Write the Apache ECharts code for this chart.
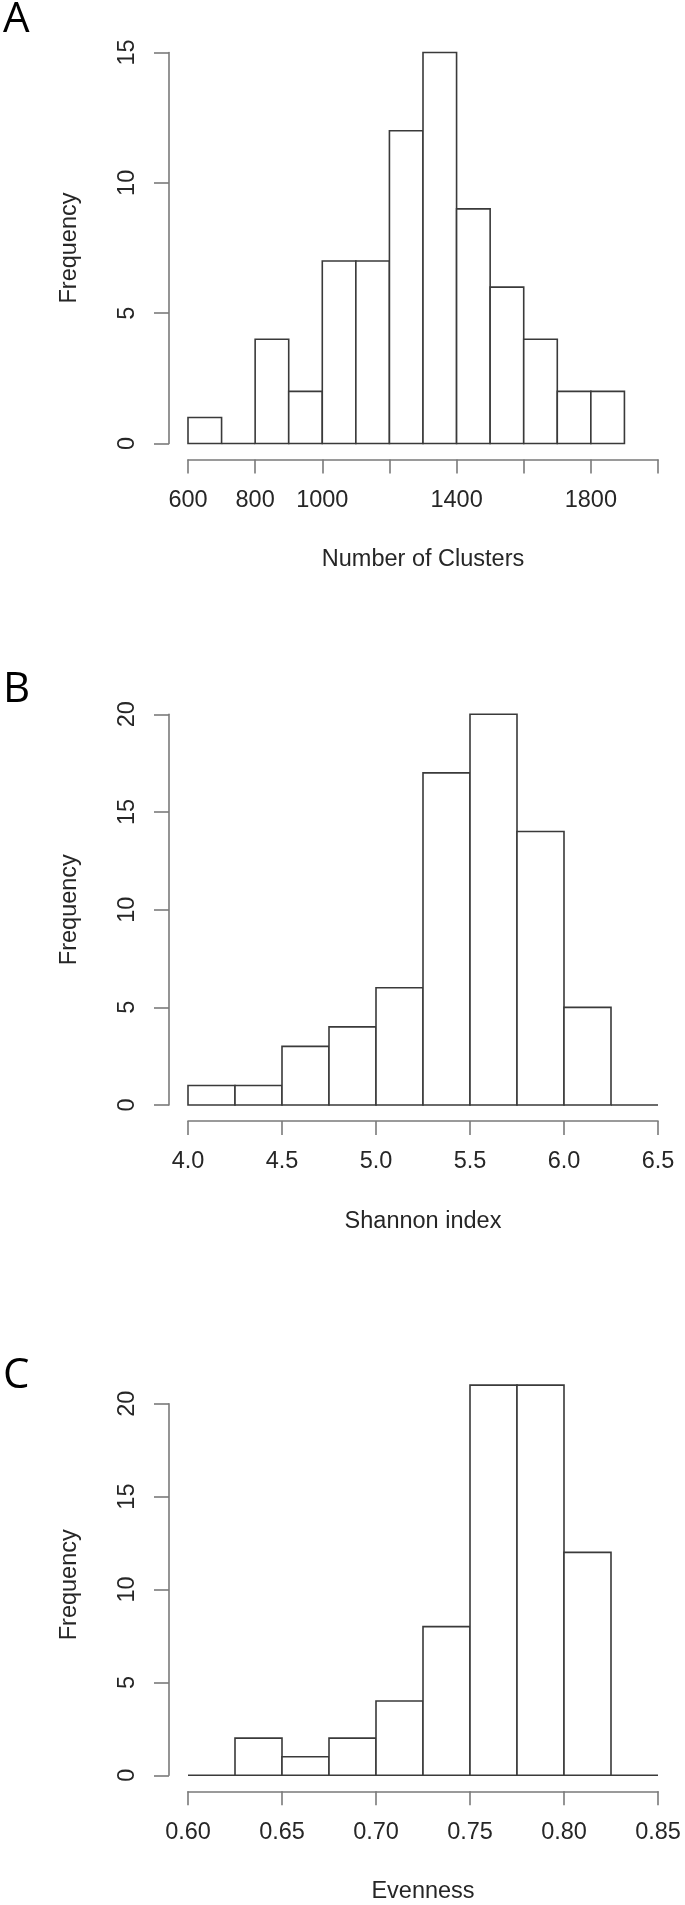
<!DOCTYPE html>
<html><head><meta charset="utf-8">
<script src="https://cdn.jsdelivr.net/npm/echarts@6/dist/echarts.min.js"></script>
<style>html,body{margin:0;padding:0;background:#fff}#c{width:685px;height:1905px}</style>
</head><body><div id="c"></div>
<script>
// ---- Data (histogram breaks and counts) ----
const clusterBreaks = [600,700,800,900,1000,1100,1200,1300,1400,1500,1600,1700,1800,1900];
const clusterCounts = [1,0,4,2,7,7,12,15,9,6,4,2,2];
const clusterTickLabels = ['600','800','1000','1400','1800'];

const shannonBreaks = [4.0,4.25,4.5,4.75,5.0,5.25,5.5,5.75,6.0,6.25,6.5];
const shannonCounts = [1,1,3,4,6,17,20,14,5,0];
const shannonTickLabels = ['4.0','4.5','5.0','5.5','6.0','6.5'];

const evennessBreaks = [0.600,0.625,0.650,0.675,0.700,0.725,0.750,0.775,0.800,0.825,0.850];
const evennessCounts = [0,2,1,2,4,8,21,21,12,0];
const evennessTickLabels = ['0.60','0.65','0.70','0.75','0.80','0.85'];

const panelLetters = ['A','B','C'];
const xTitles = ['Number of Clusters','Shannon index','Evenness'];
const yTitle = 'Frequency';

// ---- Styling ----
const FONT = '"Liberation Sans", Arial, Helvetica, sans-serif';
const TXT = '#262626';
const AXIS = '#7a7a7a';
const BAR = '#3a3a3a';
const FS = 23.5;

function bins(breaks, counts){
  return counts.map((c,i)=>[breaks[i], breaks[i+1], c]);
}

const panels = [
  {top:52.5, height:391, yMax:15, xMin:600, xMax:2000, xInt:200, breaks:clusterBreaks, counts:clusterCounts, labels:clusterTickLabels, namePad:0},
  {top:714.3, height:390.7, yMax:20, xMin:4.0, xMax:6.5, xInt:0.5, breaks:shannonBreaks, counts:shannonCounts, labels:shannonTickLabels, namePad:0},
  {top:1403.7, height:371.6, yMax:20, xMin:0.60, xMax:0.85, xInt:0.05, breaks:evennessBreaks, counts:evennessCounts, labels:evennessTickLabels, namePad:9.5}
];

const grid=[], xAxis=[], yAxis=[], series=[];
panels.forEach((p,i)=>{
  grid.push({left:188, right:27, top:p.top, height:p.height});
  const dec = p.labels[0].includes('.') ? p.labels[0].split('.')[1].length : 0;
  xAxis.push({
    gridIndex:i, type:'value', min:p.xMin, max:p.xMax, interval:p.xInt, offset:16,
    axisLine:{show:true, onZero:false, lineStyle:{color:AXIS, width:1.6}},
    axisTick:{show:true, length:14, lineStyle:{color:AXIS, width:1.6}},
    axisLabel:{margin:29, fontSize:FS, color:TXT, fontFamily:FONT, showMinLabel:true, showMaxLabel:true,
      formatter:(v)=>{const s=Number(v).toFixed(dec); return p.labels.includes(s)?s:'';}},
    splitLine:{show:false},
    name:xTitles[i], nameLocation:'middle', nameGap:88.5,
    nameTextStyle:{fontSize:FS, color:TXT, fontFamily:FONT}
  });
  yAxis.push({
    gridIndex:i, type:'value', min:0, max:p.yMax, interval:5, offset:19,
    axisLine:{show:true, lineStyle:{color:AXIS, width:1.6}},
    axisTick:{show:true, length:15, lineStyle:{color:AXIS, width:1.6}},
    axisLabel:{rotate:90, margin:29, fontSize:FS, color:TXT, fontFamily:FONT},
    splitLine:{show:false},
    name:yTitle, nameLocation:'middle', nameGap:87, nameRotate:90,
    nameTextStyle:{fontSize:FS, color:TXT, fontFamily:FONT, padding:[0,0,0,p.namePad]}
  });
  series.push({
    type:'custom', xAxisIndex:i, yAxisIndex:i, clip:false,
    data:bins(p.breaks,p.counts),
    encode:{x:[0,1], y:2},
    renderItem:(params, api)=>{
      const x0=api.value(0), x1=api.value(1), c=api.value(2);
      const a=api.coord([x0,0]), b=api.coord([x1,c]);
      if(c===0){
        return {type:'line', shape:{x1:a[0], y1:a[1], x2:b[0], y2:a[1]},
          style:{stroke:BAR, lineWidth:1.6}};
      }
      return {type:'rect', shape:{x:a[0], y:b[1], width:b[0]-a[0], height:a[1]-b[1]},
        style:{fill:'#fff', stroke:BAR, lineWidth:1.6}};
    }
  });
});

const letterY = [20, 690, 1376];
const graphic = panelLetters.map((t,i)=>({
  type:'text', x:3, y:letterY[i],
  style:{text:t, font:'42px "Open Sans", "Noto Sans", sans-serif', fill:'#000', verticalAlign:'middle', align:'left'}
}));

const chart = echarts.init(document.getElementById('c'), null, {renderer:'canvas'});
chart.setOption({animation:false, backgroundColor:'#fff', grid, xAxis, yAxis, series, graphic});
</script>
</body></html>
